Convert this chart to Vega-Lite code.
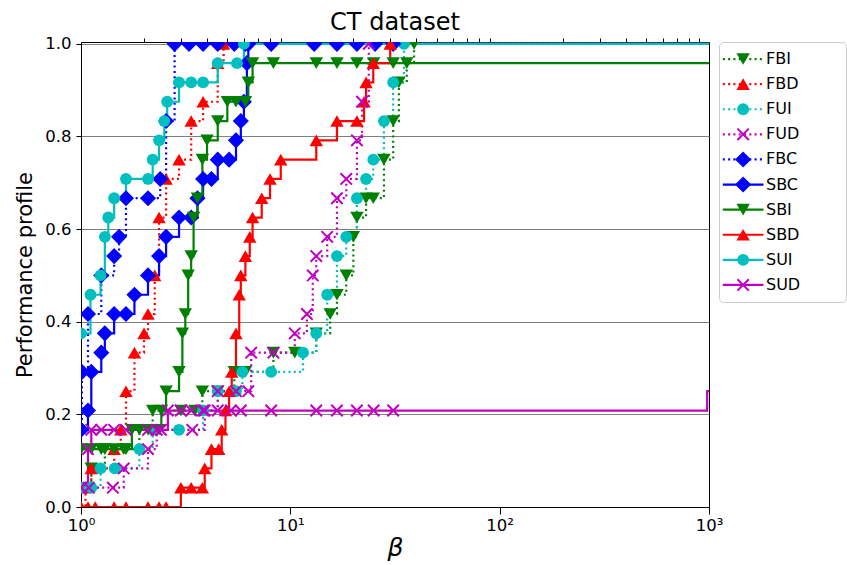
{
  "$schema": "https://vega.github.io/schema/vega-lite/v6.json",
  "autosize": {"type": "pad"},
  "padding": {"left": 14, "top": 10, "right": 0, "bottom": 0},
  "bounds": "flush",
  "spacing": 10,
  "config": {
    "font": "DejaVu Sans",
    "view": {"stroke": "black", "strokeWidth": 1},
    "axis": {"labelColor": "black", "titleColor": "black", "domainColor": "black", "tickColor": "black", "labelFont": "DejaVu Sans", "titleFont": "DejaVu Sans", "titleFontWeight": "normal"}
  },
  "datasets": {
    "series": [{"s": "FBI"}, {"s": "FBD"}, {"s": "FUI"}, {"s": "FUD"}, {"s": "FBC"}, {"s": "SBC"}, {"s": "SBI"}, {"s": "SBD"}, {"s": "SUI"}, {"s": "SUD"}],
    "profile": [
      {"s": "FBI", "x": 1.0, "y": 0.0417}, {"s": "FBI", "x": 1.12, "y": 0.0833}, {"s": "FBI", "x": 1.3, "y": 0.125}, {"s": "FBI", "x": 1.6, "y": 0.125}, {"s": "FBI", "x": 1.9, "y": 0.1667}, {"s": "FBI", "x": 2.2, "y": 0.2083}, {"s": "FBI", "x": 3.0, "y": 0.2083}, {"s": "FBI", "x": 3.5, "y": 0.2083}, {"s": "FBI", "x": 3.8, "y": 0.25}, {"s": "FBI", "x": 4.5, "y": 0.25}, {"s": "FBI", "x": 5.4, "y": 0.2917}, {"s": "FBI", "x": 6.1, "y": 0.2917}, {"s": "FBI", "x": 8.3, "y": 0.3333}, {"s": "FBI", "x": 10.5, "y": 0.3333}, {"s": "FBI", "x": 13.3, "y": 0.375}, {"s": "FBI", "x": 15.5, "y": 0.4167}, {"s": "FBI", "x": 16.7, "y": 0.4583}, {"s": "FBI", "x": 18.5, "y": 0.5}, {"s": "FBI", "x": 20.0, "y": 0.5833}, {"s": "FBI", "x": 20.8, "y": 0.625}, {"s": "FBI", "x": 23.0, "y": 0.6667}, {"s": "FBI", "x": 24.9, "y": 0.6667}, {"s": "FBI", "x": 28.0, "y": 0.75}, {"s": "FBI", "x": 31.0, "y": 0.8333}, {"s": "FBI", "x": 33.0, "y": 0.9167}, {"s": "FBI", "x": 36.0, "y": 0.9583}, {"s": "FBI", "x": 39.0, "y": 1.0}, {"s": "FBI", "x": 1000, "y": 1.0},
      {"s": "FBD", "x": 1.0, "y": 0.0}, {"s": "FBD", "x": 1.05, "y": 0.0417}, {"s": "FBD", "x": 1.12, "y": 0.0833}, {"s": "FBD", "x": 1.44, "y": 0.125}, {"s": "FBD", "x": 1.55, "y": 0.1667}, {"s": "FBD", "x": 1.64, "y": 0.25}, {"s": "FBD", "x": 1.8, "y": 0.3333}, {"s": "FBD", "x": 2.0, "y": 0.375}, {"s": "FBD", "x": 2.09, "y": 0.4167}, {"s": "FBD", "x": 2.25, "y": 0.5}, {"s": "FBD", "x": 2.36, "y": 0.625}, {"s": "FBD", "x": 2.55, "y": 0.7083}, {"s": "FBD", "x": 2.94, "y": 0.75}, {"s": "FBD", "x": 3.36, "y": 0.8333}, {"s": "FBD", "x": 3.83, "y": 0.875}, {"s": "FBD", "x": 4.5, "y": 0.9583}, {"s": "FBD", "x": 4.8, "y": 1.0}, {"s": "FBD", "x": 1000, "y": 1.0},
      {"s": "FUI", "x": 1.0, "y": 0.0417}, {"s": "FUI", "x": 1.12, "y": 0.0417}, {"s": "FUI", "x": 1.24, "y": 0.0833}, {"s": "FUI", "x": 1.45, "y": 0.0833}, {"s": "FUI", "x": 1.9, "y": 0.125}, {"s": "FUI", "x": 2.2, "y": 0.1667}, {"s": "FUI", "x": 2.94, "y": 0.1667}, {"s": "FUI", "x": 3.83, "y": 0.2083}, {"s": "FUI", "x": 4.5, "y": 0.25}, {"s": "FUI", "x": 5.5, "y": 0.25}, {"s": "FUI", "x": 5.9, "y": 0.2917}, {"s": "FUI", "x": 8.1, "y": 0.2917}, {"s": "FUI", "x": 11.5, "y": 0.3333}, {"s": "FUI", "x": 13.3, "y": 0.375}, {"s": "FUI", "x": 15.0, "y": 0.4583}, {"s": "FUI", "x": 16.7, "y": 0.5417}, {"s": "FUI", "x": 18.5, "y": 0.5833}, {"s": "FUI", "x": 20.8, "y": 0.6667}, {"s": "FUI", "x": 23.0, "y": 0.7083}, {"s": "FUI", "x": 24.9, "y": 0.75}, {"s": "FUI", "x": 28.0, "y": 0.8333}, {"s": "FUI", "x": 31.0, "y": 0.9167}, {"s": "FUI", "x": 34.9, "y": 1.0}, {"s": "FUI", "x": 1000, "y": 1.0},
      {"s": "FUD", "x": 1.0, "y": 0.0417}, {"s": "FUD", "x": 1.09, "y": 0.0417}, {"s": "FUD", "x": 1.42, "y": 0.0417}, {"s": "FUD", "x": 1.6, "y": 0.0833}, {"s": "FUD", "x": 2.09, "y": 0.125}, {"s": "FUD", "x": 2.3, "y": 0.1667}, {"s": "FUD", "x": 3.4, "y": 0.1667}, {"s": "FUD", "x": 3.9, "y": 0.2083}, {"s": "FUD", "x": 4.5, "y": 0.25}, {"s": "FUD", "x": 5.5, "y": 0.25}, {"s": "FUD", "x": 6.3, "y": 0.25}, {"s": "FUD", "x": 6.5, "y": 0.3333}, {"s": "FUD", "x": 8.3, "y": 0.3333}, {"s": "FUD", "x": 10.5, "y": 0.375}, {"s": "FUD", "x": 12.0, "y": 0.4167}, {"s": "FUD", "x": 12.8, "y": 0.5}, {"s": "FUD", "x": 13.3, "y": 0.5417}, {"s": "FUD", "x": 15.0, "y": 0.5833}, {"s": "FUD", "x": 16.7, "y": 0.6667}, {"s": "FUD", "x": 18.5, "y": 0.7083}, {"s": "FUD", "x": 20.8, "y": 0.7917}, {"s": "FUD", "x": 22.0, "y": 0.875}, {"s": "FUD", "x": 23.7, "y": 1.0}, {"s": "FUD", "x": 1000, "y": 1.0},
      {"s": "FBC", "x": 1.0, "y": 0.1667}, {"s": "FBC", "x": 1.01, "y": 0.2917}, {"s": "FBC", "x": 1.08, "y": 0.4167}, {"s": "FBC", "x": 1.25, "y": 0.5}, {"s": "FBC", "x": 1.44, "y": 0.5417}, {"s": "FBC", "x": 1.52, "y": 0.5833}, {"s": "FBC", "x": 1.64, "y": 0.6667}, {"s": "FBC", "x": 2.09, "y": 0.6667}, {"s": "FBC", "x": 2.39, "y": 0.7083}, {"s": "FBC", "x": 2.55, "y": 0.8333}, {"s": "FBC", "x": 2.8, "y": 1.0}, {"s": "FBC", "x": 3.28, "y": 1.0}, {"s": "FBC", "x": 3.83, "y": 1.0}, {"s": "FBC", "x": 4.5, "y": 1.0}, {"s": "FBC", "x": 5.4, "y": 1.0}, {"s": "FBC", "x": 6.1, "y": 1.0}, {"s": "FBC", "x": 8.1, "y": 1.0}, {"s": "FBC", "x": 13.0, "y": 1.0}, {"s": "FBC", "x": 16.7, "y": 1.0}, {"s": "FBC", "x": 20.8, "y": 1.0}, {"s": "FBC", "x": 25.4, "y": 1.0}, {"s": "FBC", "x": 31.0, "y": 1.0}, {"s": "FBC", "x": 1000, "y": 1.0},
      {"s": "SBC", "x": 1.0, "y": 0.1667}, {"s": "SBC", "x": 1.08, "y": 0.2083}, {"s": "SBC", "x": 1.12, "y": 0.2917}, {"s": "SBC", "x": 1.25, "y": 0.3333}, {"s": "SBC", "x": 1.3, "y": 0.375}, {"s": "SBC", "x": 1.44, "y": 0.4167}, {"s": "SBC", "x": 1.64, "y": 0.4167}, {"s": "SBC", "x": 1.8, "y": 0.4583}, {"s": "SBC", "x": 2.09, "y": 0.5}, {"s": "SBC", "x": 2.36, "y": 0.5417}, {"s": "SBC", "x": 2.55, "y": 0.5833}, {"s": "SBC", "x": 2.94, "y": 0.625}, {"s": "SBC", "x": 3.36, "y": 0.625}, {"s": "SBC", "x": 3.6, "y": 0.6667}, {"s": "SBC", "x": 3.83, "y": 0.7083}, {"s": "SBC", "x": 4.2, "y": 0.7083}, {"s": "SBC", "x": 4.5, "y": 0.75}, {"s": "SBC", "x": 5.1, "y": 0.75}, {"s": "SBC", "x": 5.5, "y": 0.7917}, {"s": "SBC", "x": 5.8, "y": 0.8333}, {"s": "SBC", "x": 6.0, "y": 0.875}, {"s": "SBC", "x": 6.2, "y": 0.9583}, {"s": "SBC", "x": 6.3, "y": 1.0}, {"s": "SBC", "x": 1000, "y": 1.0},
      {"s": "SBI", "x": 1.0, "y": 0.125}, {"s": "SBI", "x": 1.12, "y": 0.125}, {"s": "SBI", "x": 1.25, "y": 0.125}, {"s": "SBI", "x": 1.44, "y": 0.125}, {"s": "SBI", "x": 1.64, "y": 0.125}, {"s": "SBI", "x": 1.75, "y": 0.1667}, {"s": "SBI", "x": 2.09, "y": 0.1667}, {"s": "SBI", "x": 2.36, "y": 0.1667}, {"s": "SBI", "x": 2.42, "y": 0.2083}, {"s": "SBI", "x": 2.55, "y": 0.25}, {"s": "SBI", "x": 2.94, "y": 0.2917}, {"s": "SBI", "x": 3.05, "y": 0.375}, {"s": "SBI", "x": 3.15, "y": 0.4167}, {"s": "SBI", "x": 3.25, "y": 0.5}, {"s": "SBI", "x": 3.36, "y": 0.5417}, {"s": "SBI", "x": 3.45, "y": 0.625}, {"s": "SBI", "x": 3.6, "y": 0.6667}, {"s": "SBI", "x": 3.8, "y": 0.75}, {"s": "SBI", "x": 4.0, "y": 0.7917}, {"s": "SBI", "x": 4.5, "y": 0.8333}, {"s": "SBI", "x": 5.0, "y": 0.875}, {"s": "SBI", "x": 5.5, "y": 0.875}, {"s": "SBI", "x": 6.1, "y": 0.875}, {"s": "SBI", "x": 6.3, "y": 0.9167}, {"s": "SBI", "x": 6.6, "y": 0.9583}, {"s": "SBI", "x": 8.3, "y": 0.9583}, {"s": "SBI", "x": 13.3, "y": 0.9583}, {"s": "SBI", "x": 16.7, "y": 0.9583}, {"s": "SBI", "x": 20.8, "y": 0.9583}, {"s": "SBI", "x": 25.0, "y": 0.9583}, {"s": "SBI", "x": 31.0, "y": 0.9583}, {"s": "SBI", "x": 1000, "y": 0.9583},
      {"s": "SBD", "x": 1.0, "y": 0.0}, {"s": "SBD", "x": 1.08, "y": 0.0}, {"s": "SBD", "x": 1.17, "y": 0.0}, {"s": "SBD", "x": 1.44, "y": 0.0}, {"s": "SBD", "x": 1.64, "y": 0.0}, {"s": "SBD", "x": 2.09, "y": 0.0}, {"s": "SBD", "x": 2.36, "y": 0.0}, {"s": "SBD", "x": 2.55, "y": 0.0}, {"s": "SBD", "x": 3.0, "y": 0.0417}, {"s": "SBD", "x": 3.36, "y": 0.0417}, {"s": "SBD", "x": 3.8, "y": 0.0417}, {"s": "SBD", "x": 3.9, "y": 0.0833}, {"s": "SBD", "x": 4.2, "y": 0.125}, {"s": "SBD", "x": 4.55, "y": 0.125}, {"s": "SBD", "x": 4.7, "y": 0.1667}, {"s": "SBD", "x": 4.9, "y": 0.2083}, {"s": "SBD", "x": 5.1, "y": 0.25}, {"s": "SBD", "x": 5.25, "y": 0.2917}, {"s": "SBD", "x": 5.5, "y": 0.375}, {"s": "SBD", "x": 5.7, "y": 0.4583}, {"s": "SBD", "x": 5.8, "y": 0.5}, {"s": "SBD", "x": 6.1, "y": 0.5417}, {"s": "SBD", "x": 6.4, "y": 0.5833}, {"s": "SBD", "x": 6.6, "y": 0.625}, {"s": "SBD", "x": 7.3, "y": 0.6667}, {"s": "SBD", "x": 8.0, "y": 0.7083}, {"s": "SBD", "x": 9.0, "y": 0.75}, {"s": "SBD", "x": 13.3, "y": 0.7917}, {"s": "SBD", "x": 16.7, "y": 0.8333}, {"s": "SBD", "x": 20.8, "y": 0.8333}, {"s": "SBD", "x": 22.5, "y": 0.875}, {"s": "SBD", "x": 23.0, "y": 0.9167}, {"s": "SBD", "x": 24.9, "y": 0.9583}, {"s": "SBD", "x": 30.0, "y": 1.0}, {"s": "SBD", "x": 1000, "y": 1.0},
      {"s": "SUI", "x": 1.0, "y": 0.375}, {"s": "SUI", "x": 1.11, "y": 0.4583}, {"s": "SUI", "x": 1.24, "y": 0.5}, {"s": "SUI", "x": 1.3, "y": 0.5833}, {"s": "SUI", "x": 1.35, "y": 0.625}, {"s": "SUI", "x": 1.44, "y": 0.6667}, {"s": "SUI", "x": 1.64, "y": 0.7083}, {"s": "SUI", "x": 2.09, "y": 0.7083}, {"s": "SUI", "x": 2.2, "y": 0.75}, {"s": "SUI", "x": 2.36, "y": 0.7917}, {"s": "SUI", "x": 2.5, "y": 0.8333}, {"s": "SUI", "x": 2.58, "y": 0.875}, {"s": "SUI", "x": 2.94, "y": 0.9167}, {"s": "SUI", "x": 3.36, "y": 0.9167}, {"s": "SUI", "x": 3.83, "y": 0.9167}, {"s": "SUI", "x": 4.5, "y": 0.9583}, {"s": "SUI", "x": 5.56, "y": 0.9583}, {"s": "SUI", "x": 6.0, "y": 1.0}, {"s": "SUI", "x": 1000, "y": 1.0},
      {"s": "SUD", "x": 1.0, "y": 0.0417}, {"s": "SUD", "x": 1.08, "y": 0.125}, {"s": "SUD", "x": 1.12, "y": 0.1667}, {"s": "SUD", "x": 1.25, "y": 0.1667}, {"s": "SUD", "x": 1.44, "y": 0.1667}, {"s": "SUD", "x": 1.64, "y": 0.1667}, {"s": "SUD", "x": 2.09, "y": 0.1667}, {"s": "SUD", "x": 2.41, "y": 0.1667}, {"s": "SUD", "x": 2.6, "y": 0.2083}, {"s": "SUD", "x": 3.0, "y": 0.2083}, {"s": "SUD", "x": 3.36, "y": 0.2083}, {"s": "SUD", "x": 3.83, "y": 0.2083}, {"s": "SUD", "x": 4.5, "y": 0.2083}, {"s": "SUD", "x": 5.2, "y": 0.2083}, {"s": "SUD", "x": 5.8, "y": 0.2083}, {"s": "SUD", "x": 8.1, "y": 0.2083}, {"s": "SUD", "x": 13.3, "y": 0.2083}, {"s": "SUD", "x": 16.7, "y": 0.2083}, {"s": "SUD", "x": 20.8, "y": 0.2083}, {"s": "SUD", "x": 25.0, "y": 0.2083}, {"s": "SUD", "x": 31.0, "y": 0.2083}, {"s": "SUD", "x": 980, "y": 0.25}, {"s": "SUD", "x": 1000, "y": 0.25}
    ]
  },
  "hconcat": [
    {
      "width": 628,
      "height": 465,
      "title": {"text": "CT dataset", "fontSize": 24, "font": "DejaVu Sans", "fontWeight": "normal", "color": "black", "offset": 1},
      "data": {"name": "profile"},
      "layer": [
        {
          "mark": {"type": "line", "interpolate": "step-after", "strokeWidth": 2.2, "clip": true},
          "encoding": {
            "x": {"field": "x", "type": "quantitative", "scale": {"type": "log", "domain": [1, 1000]},
              "axis": {"values": [1, 10, 100, 1000], "labelExpr": "datum.value == 1 ? '10⁰' : datum.value == 10 ? '10¹' : datum.value == 100 ? '10²' : '10³'", "labelFlush": false, "tickSize": 7, "labelFontSize": 16.5, "labelPadding": 3, "grid": false, "title": "β", "titleFontSize": 25, "titleFontStyle": "italic", "titlePadding": 2}},
            "y": {"field": "y", "type": "quantitative", "scale": {"domain": [0, 1.004], "nice": false},
              "axis": {"values": [0, 0.2, 0.4, 0.6, 0.8, 1.0], "format": ".1f", "grid": true, "gridColor": "#808080", "gridWidth": 1, "tickSize": 5, "labelFontSize": 16.5, "labelPadding": 5, "title": "Performance profile", "titleFontSize": 21, "titlePadding": 9}},
            "color": {"field": "s", "type": "nominal", "legend": null,
              "scale": {"domain": ["FBI", "FBD", "FUI", "FUD", "FBC", "SBC", "SBI", "SBD", "SUI", "SUD"], "range": ["#008000", "#ff0000", "#00bfbf", "#bf00bf", "#0000ff", "#0000ff", "#008000", "#ff0000", "#00bfbf", "#bf00bf"]}},
            "strokeDash": {"field": "s", "type": "nominal", "legend": null,
              "scale": {"domain": ["FBI", "FBD", "FUI", "FUD", "FBC", "SBC", "SBI", "SBD", "SUI", "SUD"], "range": [[2, 3.3], [2, 3.3], [2, 3.3], [2, 3.3], [2, 3.3], [1, 0], [1, 0], [1, 0], [1, 0], [1, 0]]}}
          }
        },
        {
          "transform": [{"filter": "datum.x < 900 && datum.s != 'FUD' && datum.s != 'SUD'"}],
          "mark": {"type": "point", "filled": true, "opacity": 1, "clip": true},
          "encoding": {
            "x": {"field": "x", "type": "quantitative", "scale": {"type": "log", "domain": [1, 1000]},
              "axis": {"values": [2, 3, 4, 5, 6, 7, 8, 9, 20, 30, 40, 50, 60, 70, 80, 90, 200, 300, 400, 500, 600, 700, 800, 900], "labels": false, "tickSize": 4, "domain": false, "grid": false, "title": null}},
            "y": {"field": "y", "type": "quantitative"},
            "color": {"field": "s", "type": "nominal", "legend": null},
            "shape": {"field": "s", "type": "nominal", "legend": null,
              "scale": {"domain": ["FBI", "FBD", "FUI", "FUD", "FBC", "SBC", "SBI", "SBD", "SUI", "SUD"], "range": ["triangle-down", "triangle-up", "circle", "circle", "diamond", "diamond", "triangle-down", "triangle-up", "circle", "circle"]}},
            "size": {"field": "s", "type": "nominal", "legend": null,
              "scale": {"type": "ordinal", "domain": ["FBI", "FBD", "FUI", "FUD", "FBC", "SBC", "SBI", "SBD", "SUI", "SUD"], "range": [180, 180, 140, 140, 260, 260, 180, 180, 140, 140]}}
          }
        },
        {
          "transform": [{"filter": "datum.x < 900 && (datum.s == 'FUD' || datum.s == 'SUD')"}],
          "mark": {"type": "point", "shape": "M-1,-1L1,1M-1,1L1,-1", "filled": false, "strokeWidth": 2, "size": 130, "opacity": 1, "clip": true},
          "encoding": {
            "x": {"field": "x", "type": "quantitative", "axis": null},
            "y": {"field": "y", "type": "quantitative"},
            "color": {"field": "s", "type": "nominal", "legend": null}
          }
        }
      ],
      "resolve": {"axis": {"x": "independent"}}
    },
    {
      "width": 127,
      "height": 260,
      "view": {"stroke": "#cccccc", "cornerRadius": 4},
      "data": {"name": "series"},
      "encoding": {
        "y": {"field": "s", "type": "nominal", "axis": null,
          "scale": {"type": "point", "domain": ["FBI", "FBD", "FUI", "FUD", "FBC", "SBC", "SBI", "SBD", "SUI", "SUD"], "padding": 0.68}}
      },
      "layer": [
        {
          "mark": {"type": "rule", "strokeWidth": 2.2},
          "encoding": {
            "x": {"datum": 0.03, "type": "quantitative", "scale": {"domain": [0, 1]}, "axis": null},
            "x2": {"datum": 0.35},
            "color": {"field": "s", "type": "nominal", "legend": null,
              "scale": {"domain": ["FBI", "FBD", "FUI", "FUD", "FBC", "SBC", "SBI", "SBD", "SUI", "SUD"], "range": ["#008000", "#ff0000", "#00bfbf", "#bf00bf", "#0000ff", "#0000ff", "#008000", "#ff0000", "#00bfbf", "#bf00bf"]}},
            "strokeDash": {"field": "s", "type": "nominal", "legend": null,
              "scale": {"domain": ["FBI", "FBD", "FUI", "FUD", "FBC", "SBC", "SBI", "SBD", "SUI", "SUD"], "range": [[2, 3.3], [2, 3.3], [2, 3.3], [2, 3.3], [2, 3.3], [1, 0], [1, 0], [1, 0], [1, 0], [1, 0]]}}
          }
        },
        {
          "transform": [{"filter": "datum.s != 'FUD' && datum.s != 'SUD'"}],
          "mark": {"type": "point", "filled": true, "opacity": 1},
          "encoding": {
            "x": {"datum": 0.19, "type": "quantitative", "axis": null},
            "color": {"field": "s", "type": "nominal", "legend": null},
            "shape": {"field": "s", "type": "nominal", "legend": null,
              "scale": {"domain": ["FBI", "FBD", "FUI", "FUD", "FBC", "SBC", "SBI", "SBD", "SUI", "SUD"], "range": ["triangle-down", "triangle-up", "circle", "circle", "diamond", "diamond", "triangle-down", "triangle-up", "circle", "circle"]}},
            "size": {"field": "s", "type": "nominal", "legend": null,
              "scale": {"type": "ordinal", "domain": ["FBI", "FBD", "FUI", "FUD", "FBC", "SBC", "SBI", "SBD", "SUI", "SUD"], "range": [180, 180, 140, 140, 260, 260, 180, 180, 140, 140]}}
          }
        },
        {
          "transform": [{"filter": "datum.s == 'FUD' || datum.s == 'SUD'"}],
          "mark": {"type": "point", "shape": "M-1,-1L1,1M-1,1L1,-1", "filled": false, "strokeWidth": 2, "size": 130, "opacity": 1},
          "encoding": {
            "x": {"datum": 0.19, "type": "quantitative", "axis": null},
            "color": {"field": "s", "type": "nominal", "legend": null}
          }
        },
        {
          "mark": {"type": "text", "align": "left", "baseline": "middle", "fontSize": 16, "font": "DejaVu Sans", "color": "black"},
          "encoding": {
            "x": {"datum": 0.37, "type": "quantitative", "axis": null},
            "text": {"field": "s"}
          }
        }
      ]
    }
  ]
}
